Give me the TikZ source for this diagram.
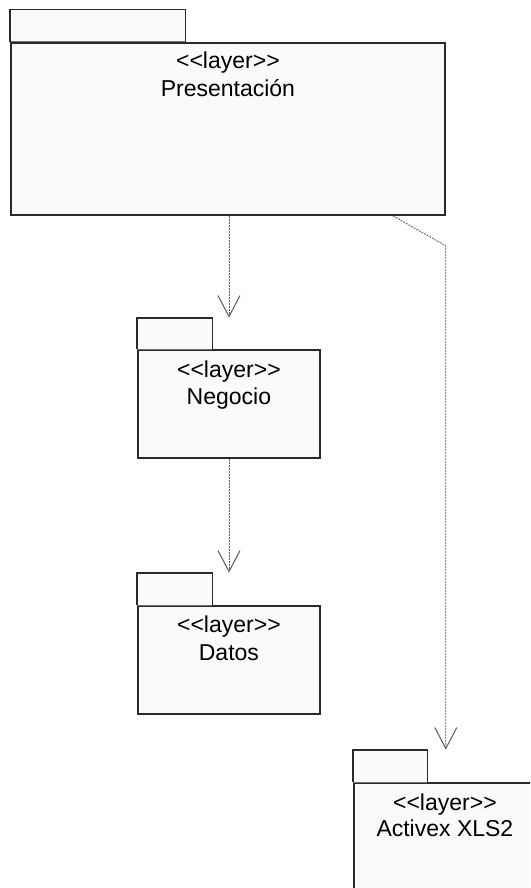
\documentclass[tikz,border=0pt]{standalone}
\usepackage{fontspec}
\setmainfont{Liberation Sans}[Ligatures=TeXOff]
\usetikzlibrary{arrows.meta}
\definecolor{pkgfill}{HTML}{FAFAFA}
\definecolor{pkgline}{HTML}{2A2A2A}
\definecolor{depline}{HTML}{5A5A5A}
\definecolor{tabsep}{HTML}{707070}
\tikzset{
  pkgbody/.style={draw=pkgline, fill=pkgfill, line width=1.8pt, inner sep=0pt, anchor=north west},
  pkgtab/.style={fill=pkgfill, inner sep=0pt, anchor=south west},
  taboutline/.style={draw=pkgline, line width=1.8pt, line join=miter},
  tabline/.style={draw=tabsep, line width=1pt},
  lbl/.style={anchor=base, inner sep=0pt, text=black, font=\fontsize{23}{28}\selectfont},
  dep/.style={draw=depline, line width=0.8pt, dash pattern=on 2pt off 1pt,
    -{Straight Barb[length=21pt, width=22pt, line width=1pt]}},
}
\begin{document}
\begin{tikzpicture}[x=1pt, y=-1pt]
  \useasboundingbox (0,0) rectangle (530,888);
  \clip (0,0) rectangle (530,888);
  \fill[white] (0,0) rectangle (530,888);

  % Presentacion
  \node[pkgbody, minimum width=434pt, minimum height=172pt] (pres) at (10,42) {};
  \node[pkgtab, minimum width=175pt, minimum height=32pt] (prestab) at (10,42) {};
  \draw[tabline] (prestab.south west) -- (prestab.south east);
  \draw[taboutline] (prestab.south west) -- (prestab.north west) -- (prestab.north east) -- (prestab.south east);
  \node[lbl] (pres-st) at ([yshift=-27pt]pres.north) {<<layer>>};
  \node[lbl] (pres-nm) at ([yshift=-55pt]pres.north) {Presentación};

  % Negocio
  \node[pkgbody, minimum width=182pt, minimum height=108pt] (neg) at (137,349) {};
  \node[pkgtab, minimum width=75pt, minimum height=31pt] (negtab) at (137,349) {};
  \draw[tabline] (negtab.south west) -- (negtab.south east);
  \draw[taboutline] (negtab.south west) -- (negtab.north west) -- (negtab.north east) -- (negtab.south east);
  \node[lbl] (neg-st) at ([yshift=-28pt]neg.north) {<<layer>>};
  \node[lbl] (neg-nm) at ([yshift=-55pt]neg.north) {Negocio};

  % Datos
  \node[pkgbody, minimum width=182pt, minimum height=108pt] (dat) at (137,605) {};
  \node[pkgtab, minimum width=75pt, minimum height=32pt] (dattab) at (137,605) {};
  \draw[tabline] (dattab.south west) -- (dattab.south east);
  \draw[taboutline] (dattab.south west) -- (dattab.north west) -- (dattab.north east) -- (dattab.south east);
  \node[lbl] (dat-st) at ([yshift=-27pt]dat.north) {<<layer>>};
  \node[lbl] (dat-nm) at ([yshift=-55pt]dat.north) {Datos};

  % Activex XLS2
  \node[pkgbody, minimum width=182pt, minimum height=140pt] (act) at (353,782) {};
  \node[pkgtab, minimum width=74pt, minimum height=32pt] (acttab) at (353,782) {};
  \draw[tabline] (acttab.south west) -- (acttab.south east);
  \draw[taboutline] (acttab.south west) -- (acttab.north west) -- (acttab.north east) -- (acttab.south east);
  \node[lbl] (act-st) at ([yshift=-28pt]act.north) {<<layer>>};
  \node[lbl] (act-nm) at ([yshift=-54pt]act.north) {Activex XLS2};

  % Dependencies
  \coordinate (c1) at (229,0);
  \draw[dep] (pres.south -| c1) -- (negtab.north -| c1);
  \draw[dep] (neg.south -| c1) -- (dattab.north -| c1);
  \coordinate (bend) at ([yshift=-30pt]pres.south east);
  \draw[dep] ([xshift=-53pt]pres.south east) -- (bend) -- (acttab.north -| bend);
\end{tikzpicture}
\end{document}
